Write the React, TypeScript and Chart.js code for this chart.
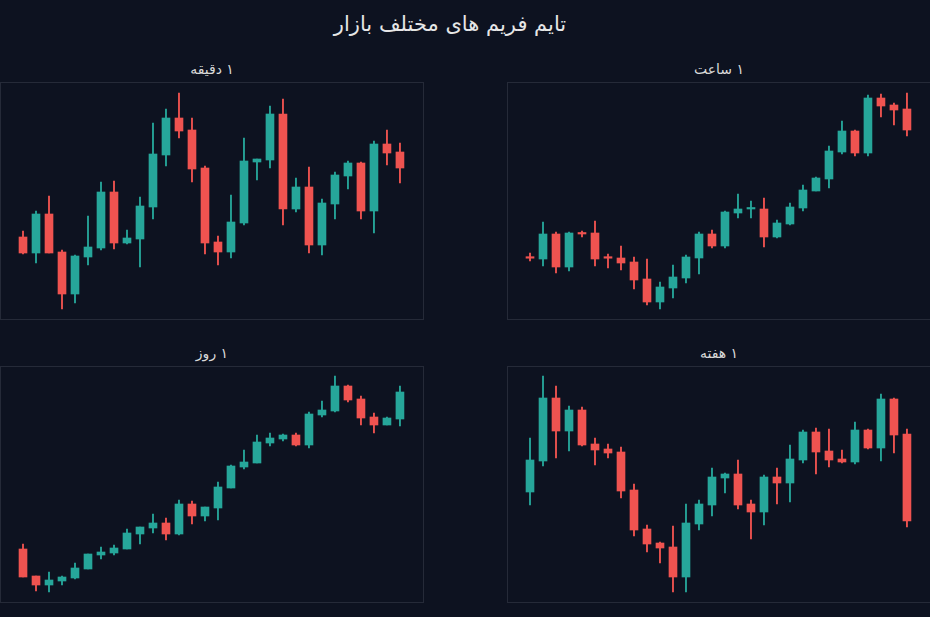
import React, { useEffect, useRef } from "react";
import { Chart, registerables } from "chart.js";

Chart.register(...registerables);

const mainTitle = "تایم فریم های مختلف بازار";
const panelTitles = ["\u06F1 دقیقه", "\u06F1 ساعت", "\u06F1 روز", "\u06F1 هفته"];

const candleSlots = [0, 1, 2, 3, 4, 5, 6, 7, 8, 9, 10, 11, 12, 13, 14, 15, 16, 17, 18, 19, 20, 21, 22, 23, 24, 25, 26, 27, 28, 29];

// 1 minute
const minuteOpen = [163, 147, 186, 148, 106, 143, 152, 208, 157, 161, 193, 245, 282, 270, 232, 158, 148, 177, 238, 240, 286, 191, 213, 155, 196, 224, 237, 189, 256, 248];
const minuteHigh = [169, 189, 204, 150, 145, 184, 218, 219, 170, 203, 277, 291, 307, 282, 234, 164, 205, 262, 241, 294, 301, 222, 233, 201, 228, 239, 238, 259, 270, 257];
const minuteLow = [146, 137, 147, 91, 97, 135, 150, 151, 156, 133, 181, 234, 262, 218, 146, 135, 142, 175, 220, 232, 175, 188, 147, 145, 181, 211, 181, 167, 235, 217];
const minuteClose = [147, 186, 147, 106, 144, 153, 208, 157, 162, 194, 246, 282, 269, 231, 157, 148, 178, 239, 241, 286, 191, 213, 155, 197, 225, 237, 189, 256, 247, 232];

// 1 hour
const hourOpen = [142, 141, 166, 133, 167, 167, 142, 142, 138, 121, 98, 112, 122, 142, 166, 154, 187, 191, 191, 163, 176, 192, 209, 221, 248, 269, 247, 302, 295, 291];
const hourHigh = [147, 178, 168, 168, 169, 179, 146, 154, 143, 141, 118, 135, 145, 168, 170, 189, 206, 199, 202, 180, 197, 215, 223, 254, 279, 270, 305, 306, 297, 307];
const hourLow = [139, 134, 127, 129, 163, 134, 132, 130, 111, 95, 91, 102, 117, 126, 152, 152, 182, 182, 153, 162, 175, 189, 209, 212, 246, 244, 244, 283, 275, 264];
const hourClose = [141.8, 166, 133, 167, 166, 141, 141.8, 137, 120, 98, 113, 123, 143, 166, 154, 188, 191, 191.2, 163, 177, 193, 210, 222, 249, 269, 247, 302, 294, 290, 270];

// 1 day
const dayOpen = [151, 124, 115, 119, 122, 131, 145, 147, 151, 166, 172, 177, 166, 196, 184, 192, 212, 233, 237, 257, 261, 265, 255, 285, 289, 314, 301, 283, 275, 281];
const dayHigh = [156, 124, 128, 124, 137, 146, 153, 155, 171, 173, 186, 182, 200, 199, 193, 218, 235, 250, 265, 267, 266, 267, 288, 299, 324, 315, 304, 287, 283, 314];
const dayLow = [123, 109, 108, 115, 121, 131, 141, 145, 151, 156, 167, 160, 165, 176, 179, 180, 212, 231, 237, 254, 259, 254, 252, 283, 288, 298, 275, 267, 275, 274];
const dayClose = [123, 115, 120, 123, 132, 146, 148, 152, 167, 173, 177, 166, 196, 184, 193, 213, 234, 238, 258, 262, 265, 255, 286, 290, 314, 300, 282, 275, 282, 308];

// 1 week
const weekOpen = [208, 239, 302, 269, 290, 256, 251, 248, 210, 171, 157, 153, 123, 176, 195, 222, 226, 196, 188, 223, 217, 240, 268, 249, 241, 238, 270, 252, 301, 266];
const weekHigh = [262, 324, 314, 294, 293, 262, 256, 253, 216, 175, 158, 174, 196, 200, 232, 227, 240, 200, 225, 232, 255, 270, 272, 271, 250, 278, 271, 306, 302, 271];
const weekLow = [195, 234, 242, 249, 254, 235, 242, 202, 164, 148, 137, 108, 108, 170, 184, 207, 191, 161, 175, 196, 198, 237, 226, 233, 237, 236, 251, 239, 247, 173];
const weekClose = [240, 302, 269, 290, 255, 250, 247, 209, 170, 156, 152, 123, 177, 196, 223, 226, 195, 188, 223, 217, 241, 268, 248, 240, 238, 270, 252, 301, 265, 179];

const BG = "#0d1220";
const FRAME = "#252a38";
const UP = "#26a69a";
const DOWN = "#ef5350";

type PanelDef = {
  title: string;
  open: number[];
  high: number[];
  low: number[];
  close: number[];
  left: number;
  top: number;
  height: number;
  yMin: number;
  yMax: number;
};

const panels: PanelDef[] = [
  { title: panelTitles[0], open: minuteOpen, high: minuteHigh, low: minuteLow, close: minuteClose, left: 0, top: 82, height: 238, yMin: 80, yMax: 318 },
  { title: panelTitles[1], open: hourOpen, high: hourHigh, low: hourLow, close: hourClose, left: 507, top: 82, height: 238, yMin: 80, yMax: 318 },
  { title: panelTitles[2], open: dayOpen, high: dayHigh, low: dayLow, close: dayClose, left: 0, top: 366, height: 237, yMin: 97, yMax: 334 },
  { title: panelTitles[3], open: weekOpen, high: weekHigh, low: weekLow, close: weekClose, left: 507, top: 366, height: 237, yMin: 97, yMax: 334 },
];

const framePlugin = {
  id: "frame",
  afterDraw(chart: any) {
    const { ctx, chartArea } = chart;
    ctx.save();
    ctx.strokeStyle = FRAME;
    ctx.lineWidth = 1;
    ctx.strokeRect(chartArea.left + 0.5, chartArea.top + 0.5, chartArea.right - chartArea.left - 1, chartArea.bottom - chartArea.top - 1);
    ctx.restore();
  },
};

function Panel({ def }: { def: PanelDef }) {
  const ref = useRef<HTMLCanvasElement | null>(null);
  useEffect(() => {
    if (!ref.current) return;
    const colors = candleSlots.map((_, i) => (def.close[i] >= def.open[i] ? UP : DOWN));
    const chart = new Chart(ref.current, {
      type: "bar",
      data: {
        datasets: [
          {
            label: "body",
            data: candleSlots.map((x, i) => ({ x, y: [def.open[i], def.close[i]] })) as any,
            backgroundColor: colors,
            borderWidth: 0,
            barThickness: 8,
            minBarLength: 1.5,
            grouped: false,
            order: 1,
          } as any,
          {
            label: "wick",
            data: candleSlots.map((x, i) => ({ x, y: [def.low[i], def.high[i]] })) as any,
            backgroundColor: colors,
            borderWidth: 0,
            barThickness: 1.2,
            grouped: false,
            order: 2,
          } as any,
        ],
      },
      options: {
        animation: false,
        responsive: false,
        maintainAspectRatio: false,
        layout: { padding: 0 },
        plugins: {
          legend: { display: false },
          tooltip: { enabled: false },
          title: { display: false },
        },
        scales: {
          x: { type: "linear", min: -1.77, max: 30.85, display: false, offset: false },
          y: { type: "linear", min: def.yMin, max: def.yMax, display: false },
        },
      },
      plugins: [framePlugin],
    });
    return () => chart.destroy();
  }, [def]);
  return (
    <>
      <div
        dir="rtl"
        style={{
          position: "absolute",
          left: def.left,
          width: 424,
          top: def.top - 23,
          textAlign: "center",
          fontFamily: "DejaVu Sans",
          fontSize: 14,
          lineHeight: "20px",
          color: "#d9d9d9",
          whiteSpace: "nowrap",
        }}
      >
        {def.title}
      </div>
      <canvas
        ref={ref}
        width={424}
        height={def.height}
        style={{ position: "absolute", left: def.left, top: def.top, width: 424, height: def.height }}
      />
    </>
  );
}

export default function App() {
  useEffect(() => {
    document.body.style.margin = "0";
    document.body.style.background = BG;
  }, []);
  return (
    <div style={{ position: "absolute", left: 0, top: 0, width: 930, height: 617, background: BG, overflow: "hidden" }}>
      <div
        dir="rtl"
        style={{
          position: "absolute",
          left: 250,
          width: 400,
          top: 9,
          textAlign: "center",
          fontFamily: "DejaVu Sans",
          fontSize: 21,
          lineHeight: "30px",
          color: "#e6e6e6",
          whiteSpace: "nowrap",
        }}
      >
        {mainTitle}
      </div>
      {panels.map((p, i) => (
        <Panel key={i} def={p} />
      ))}
    </div>
  );
}
